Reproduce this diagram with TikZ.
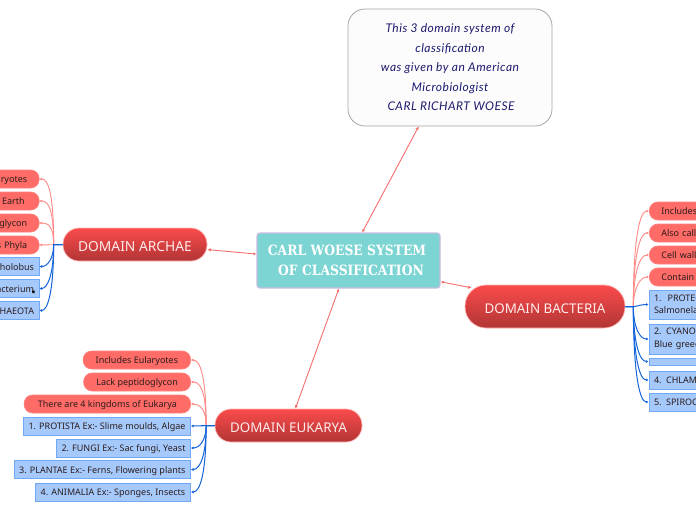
\documentclass[tikz,border=0pt]{standalone}
\usepackage{fontspec}
\setmainfont{Noto Sans}
\newfontfamily\serifb{DejaVu Serif}[FakeStretch=0.87]
\newfontfamily\hand{Lato}[LetterSpace=4]
\usetikzlibrary{arrows.meta,calc}
\definecolor{pillc}{HTML}{FF6B66}
\definecolor{bluef}{HTML}{A5C9FB}
\definecolor{blueb}{HTML}{70A8F4}
\definecolor{bluel}{HTML}{1564DC}
\definecolor{pinkl}{HTML}{FF8A86}
\definecolor{mainl}{HTML}{F2706E}
\definecolor{teal1}{HTML}{7DD5D3}
\definecolor{tealb}{HTML}{C8BCDF}
\definecolor{inkc}{HTML}{2B1C1C}
\definecolor{navyc}{HTML}{1C1A6E}
\definecolor{F1}{HTML}{FA4B4B}
\definecolor{F2}{HTML}{B23535}
\tikzset{
  x=1pt,y=-1pt,
  leafnode/.style={inner ysep=0pt,minimum height=18pt,font=\fontsize{9}{12.5}\selectfont,text=inkc,text height=7pt,text depth=0pt},
  pillnode/.style={leafnode,fill=pillc,draw=pillc!85!white,line width=.7pt,rounded corners=8.5pt,inner xsep=12pt},
  boxnode/.style={leafnode,fill=bluef,draw=blueb,line width=1pt,inner xsep=5pt},
  twolines/.style={text height={},text depth={}},
  domnode/.style={rounded corners=16pt,draw=pinkl!60!white,line width=.7pt,text height=14pt,text depth=0pt,
     top color=F1,bottom color=F2,text=white!92!red,font=\fontsize{13.8}{16}\selectfont,inner sep=0pt},
  mainlink/.style={draw=mainl,line width=.9pt,{Latex[length=3pt,width=3pt]}-{Latex[length=3.5pt,width=3.5pt]}},
  pinklink/.style={draw=pinkl,line width=.9pt,-{Latex[length=2.5pt,width=3pt]}},
  bluelink/.style={draw=bluel,line width=1pt,-{Latex[length=2.5pt,width=3pt]}},
  bluestub/.style={draw=bluel,line width=1.8pt},
}
\begin{document}
\begin{tikzpicture}
\useasboundingbox (0,0) rectangle (696,520);
\clip (0,0) rectangle (696,520);
\fill[white] (0,0) rectangle (696,520);

% main nodes
\node[fill=teal1,draw=tealb,line width=1.2pt,rounded corners=3pt,minimum width=183pt,minimum height=55pt,inner sep=0pt,
  align=center,text=white,font=\serifb\bfseries\fontsize{14.2}{20.5}\selectfont] (c) at (348.5,260.5)
  {CARL WOESE SYSTEM\hspace*{3pt}\\\hspace*{5pt}OF CLASSIFICATION};
\node[fill=white!99!black,draw=black!35,line width=.8pt,rounded corners=17pt,minimum width=204pt,minimum height=117pt,inner sep=0pt,
  align=center,text=navyc,font=\hand\itshape\fontsize{12}{19.5}\selectfont] (n) at (450,67.5)
  {This 3 domain system of\\classification\\was given by an American\\Microbiologist\\\hspace*{2pt}CARL RICHART WOESE};
\node[domnode,minimum width=144pt,minimum height=33pt] (ar) at (135,244.5) {DOMAIN ARCHAE};
\node[domnode,minimum width=147pt,minimum height=33pt,font=\fontsize{13.4}{16}\selectfont] (eu) at (288.5,425.5) {DOMAIN EUKARYA};
\node[domnode,rounded corners=21pt,minimum width=160pt,minimum height=43pt,font=\fontsize{13.4}{16}\selectfont] (ba) at (545,306.5) {DOMAIN BACTERIA};

% archae leaves (cut by the left edge)
\begin{scope}[every node/.append style={anchor=east,text width=60pt,align=right}]
\node[pillnode] (a1) at (39.5,179) {ryotes};
\node[pillnode,inner xsep=14.5pt] (a2) at (39.5,201) {Earth};
\node[pillnode] (a3) at (39.5,223) {glycon};
\node[pillnode] (a4) at (39.5,245) {s Phyla};
\node[boxnode] (a5) at (39.5,266.5) {holobus};
\node[boxnode] (a6) at (39.5,288.5) {acterium};
\node[boxnode] (a7) at (39.5,310.5) {HAEOTA};
\end{scope}
\fill[black] (32,290.5) -- (34.5,290.5) -- (34.5,293) -- (32.5,293) -- cycle;

% eukarya leaves
\begin{scope}[every node/.append style={anchor=east}]
\node[pillnode,minimum width=107.5pt] (e1) at (191,360) {Includes Eularyotes};
\node[pillnode,minimum width=107pt] (e2) at (191,382) {Lack peptidoglycon};
\node[pillnode,minimum width=166.5pt] (e3) at (191,404) {There are 4 kingdoms of Eukarya};
\node[boxnode,minimum width=167pt] (e4) at (191,426) {1. PROTISTA Ex:- Slime moulds, Algae};
\node[boxnode,minimum width=133pt] (e5) at (191,448) {2. FUNGI Ex:- Sac fungi, Yeast};
\node[boxnode,minimum width=176pt] (e6) at (191,469.5) {3. PLANTAE Ex:- Ferns, Flowering plants};
\node[boxnode,minimum width=155pt] (e7) at (191,492) {4. ANIMALIA Ex:- Sponges, Insects};
\end{scope}

% bacteria leaves (cut by the right edge)
\begin{scope}[every node/.append style={anchor=west,text width=90pt,align=left}]
\node[pillnode] (b1) at (649,211) {Includes};
\node[pillnode] (b2) at (649,233) {Also call};
\node[pillnode] (b3) at (649,255) {Cell wall};
\node[pillnode] (b4) at (649,277) {Contain};
\node[boxnode,twolines,minimum height=29pt] (b5) at (648.5,304.5) {1.\ \ PROTEC\\Salmonela};
\node[boxnode,twolines,minimum height=30pt] (b6) at (648.5,339) {2. CYANOB\\Blue greee};
\node[boxnode,minimum height=7pt,text height=0pt,font=\fontsize{2}{2}\selectfont] (b7) at (648.5,361.5) {};
\node[boxnode] (b8) at (648.5,380) {4. CHLAMY};
\node[boxnode] (b9) at (648.5,402) {5. SPIROCH};
\end{scope}

% main connectors
\draw[mainlink] (c.64) -- (n.242.5);
\draw[mainlink] (c.176) -- (ar.-4.4);
\draw[mainlink] (c.251) -- (eu.68.5);
\draw[mainlink,shorten >=-7pt] (c.-13.2) -- (ba.166.5);

% archae connectors
\foreach \ch/\d in {a1/-50,a2/-35,a3/-18}
  \draw[pinklink] (ar.west) -- ++(-9,0) .. controls +(0,\d) and +(9,0) .. (\ch.east);
\draw[pinklink] (ar.west) -- (a4.east);
\foreach \ch/\d in {a5/14,a6/30,a7/48}
  \draw[bluelink] (ar.west) -- ++(-9,0) .. controls +(0,\d) and +(8,0) .. (\ch.east);
\draw[bluestub] (ar.west) -- ++(-9,0);

% eukarya connectors
\foreach \ch/\d in {e1/-50,e2/-35,e3/-16}
  \draw[pinklink] (eu.west) -- ++(-8.5,0) .. controls +(0,\d) and +(9,0) .. (\ch.east);
\draw[bluelink] (eu.west) -- (e4.east);
\foreach \ch/\d in {e5/14,e6/30,e7/48}
  \draw[bluelink] (eu.west) -- ++(-8.5,0) .. controls +(0,\d) and +(9,0) .. (\ch.east);
\draw[bluestub] (eu.west) -- ++(-14,0);

% bacteria connectors
\foreach \ch/\d in {b1/-70,b2/-52,b3/-35,b4/-18}
  \draw[pinklink] (ba.east) -- ++(8,0) .. controls +(0,\d) and +(-9,0) .. (\ch.west);
\draw[bluelink] (ba.east) -- ++(8,0) .. controls +(4,0) and +(-8,0) .. (b5.west);
\foreach \ch/\d in {b6/20,b7/36,b8/50,b9/66}
  \draw[bluelink] (ba.east) -- ++(8,0) .. controls +(0,\d) and +(-9,0) .. (\ch.west);
\draw[bluestub] (ba.east) -- ++(10,0);
\end{tikzpicture}
\end{document}
